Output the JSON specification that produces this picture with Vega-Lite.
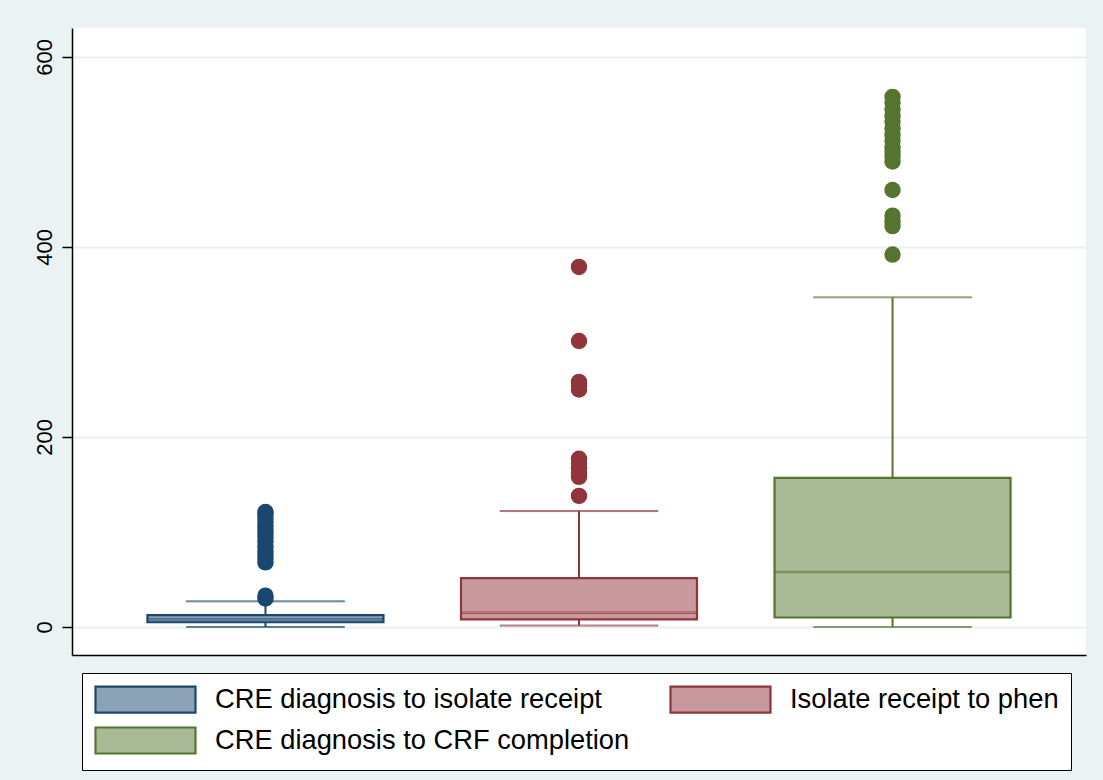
{
  "$schema": "https://vega.github.io/schema/vega-lite/v6.json",
  "width": 1014,
  "height": 627,
  "autosize": "none",
  "padding": {"left": 72, "top": 28, "right": 17, "bottom": 125},
  "background": "#eaf2f3",
  "config": {
    "view": {"fill": "white", "stroke": null},
    "font": "Liberation Sans"
  },
  "datasets": {
    "summary": [
      {"group": "CRE diagnosis to isolate receipt", "lower": 0, "q1": 5, "median": 8, "q3": 12.5, "upper": 27},
      {"group": "Isolate receipt to phen", "lower": 1.5, "q1": 8, "median": 15, "q3": 51.5, "upper": 122},
      {"group": "CRE diagnosis to CRF completion", "lower": 0, "q1": 10, "median": 58, "q3": 157, "upper": 347}
    ],
    "outliers": [
      {"series": "CRE diagnosis to isolate receipt", "value": 30},
      {"series": "CRE diagnosis to isolate receipt", "value": 33},
      {"series": "CRE diagnosis to isolate receipt", "value": 68},
      {"series": "CRE diagnosis to isolate receipt", "value": 72},
      {"series": "CRE diagnosis to isolate receipt", "value": 76},
      {"series": "CRE diagnosis to isolate receipt", "value": 80},
      {"series": "CRE diagnosis to isolate receipt", "value": 85},
      {"series": "CRE diagnosis to isolate receipt", "value": 90},
      {"series": "CRE diagnosis to isolate receipt", "value": 94},
      {"series": "CRE diagnosis to isolate receipt", "value": 98},
      {"series": "CRE diagnosis to isolate receipt", "value": 102},
      {"series": "CRE diagnosis to isolate receipt", "value": 106},
      {"series": "CRE diagnosis to isolate receipt", "value": 110},
      {"series": "CRE diagnosis to isolate receipt", "value": 114},
      {"series": "CRE diagnosis to isolate receipt", "value": 118},
      {"series": "CRE diagnosis to isolate receipt", "value": 121},
      {"series": "Isolate receipt to phen", "value": 138},
      {"series": "Isolate receipt to phen", "value": 158},
      {"series": "Isolate receipt to phen", "value": 162},
      {"series": "Isolate receipt to phen", "value": 167},
      {"series": "Isolate receipt to phen", "value": 172},
      {"series": "Isolate receipt to phen", "value": 177},
      {"series": "Isolate receipt to phen", "value": 250},
      {"series": "Isolate receipt to phen", "value": 254},
      {"series": "Isolate receipt to phen", "value": 258},
      {"series": "Isolate receipt to phen", "value": 301},
      {"series": "Isolate receipt to phen", "value": 379},
      {"series": "CRE diagnosis to CRF completion", "value": 392},
      {"series": "CRE diagnosis to CRF completion", "value": 422},
      {"series": "CRE diagnosis to CRF completion", "value": 427},
      {"series": "CRE diagnosis to CRF completion", "value": 433},
      {"series": "CRE diagnosis to CRF completion", "value": 460},
      {"series": "CRE diagnosis to CRF completion", "value": 490},
      {"series": "CRE diagnosis to CRF completion", "value": 495},
      {"series": "CRE diagnosis to CRF completion", "value": 500},
      {"series": "CRE diagnosis to CRF completion", "value": 505},
      {"series": "CRE diagnosis to CRF completion", "value": 512},
      {"series": "CRE diagnosis to CRF completion", "value": 518},
      {"series": "CRE diagnosis to CRF completion", "value": 525},
      {"series": "CRE diagnosis to CRF completion", "value": 532},
      {"series": "CRE diagnosis to CRF completion", "value": 538},
      {"series": "CRE diagnosis to CRF completion", "value": 545},
      {"series": "CRE diagnosis to CRF completion", "value": 552},
      {"series": "CRE diagnosis to CRF completion", "value": 558}
    ]
  },
  "layer": [
    {
      "data": {"name": "summary"},
      "mark": {"type": "rule", "strokeWidth": 2},
      "encoding": {
        "x": {
          "field": "group",
          "type": "nominal",
          "scale": {"type": "point", "padding": 0.617, "domain": ["CRE diagnosis to isolate receipt", "Isolate receipt to phen", "CRE diagnosis to CRF completion"]},
          "axis": {"labels": false, "ticks": false, "title": null, "grid": false, "domain": true, "domainColor": "#000", "domainWidth": 1.5}
        },
        "y": {
          "field": "lower",
          "type": "quantitative",
          "scale": {"domain": [-29.5, 630.5], "nice": false, "zero": false},
          "axis": {
            "values": [0, 200, 400, 600],
            "title": null,
            "grid": true,
            "gridColor": "#e8f0f2",
            "gridWidth": 2,
            "tickSize": 10,
            "tickColor": "#000",
            "tickWidth": 1.5,
            "domainColor": "#000",
            "domainWidth": 1.5,
            "labelAngle": 270,
            "labelFontSize": 22,
            "labelColor": "#000",
            "labelPadding": 6,
            "labelFont": "Liberation Sans"
          }
        },
        "y2": {"field": "upper"},
        "stroke": {
          "field": "group",
          "type": "nominal",
          "scale": {"domain": ["CRE diagnosis to isolate receipt", "Isolate receipt to phen", "CRE diagnosis to CRF completion"], "range": ["#1a476f", "#90353b", "#55752f"]}
        }
      }
    },
    {
      "data": {"name": "summary"},
      "mark": {"type": "tick", "size": 158, "thickness": 1, "filled": false, "strokeWidth": 1},
      "encoding": {
        "x": {"field": "group", "type": "nominal"},
        "y": {"field": "lower", "type": "quantitative"},
        "stroke": {"field": "group", "type": "nominal"}
      }
    },
    {
      "data": {"name": "summary"},
      "mark": {"type": "tick", "size": 158, "thickness": 1, "filled": false, "strokeWidth": 1},
      "encoding": {
        "x": {"field": "group", "type": "nominal"},
        "y": {"field": "upper", "type": "quantitative"},
        "stroke": {"field": "group", "type": "nominal"}
      }
    },
    {
      "data": {"name": "summary"},
      "mark": {"type": "bar", "size": 236, "strokeWidth": 2.2},
      "encoding": {
        "x": {"field": "group", "type": "nominal"},
        "y": {"field": "q1", "type": "quantitative"},
        "y2": {"field": "q3"},
        "fill": {
          "field": "group",
          "type": "nominal",
          "scale": {"domain": ["CRE diagnosis to isolate receipt", "Isolate receipt to phen", "CRE diagnosis to CRF completion"], "range": ["#8ca3b7", "#c89a9d", "#aaba97"]},
          "legend": {
            "orient": "none",
            "legendX": 10,
            "legendY": 645,
            "columns": 2,
            "direction": "horizontal",
            "title": null,
            "symbolType": "M-1,-1H6.69V1H-1Z",
            "symbolSize": 676,
            "symbolStrokeWidth": 2.2,
            "symbolOpacity": 1,
            "labelFont": "Liberation Sans",
            "labelFontSize": 27.3,
            "labelColor": "#000",
            "labelOffset": 92,
            "labelLimit": 1000,
            "columnPadding": 36,
            "rowPadding": 6,
            "padding": 12,
            "strokeColor": "#000",
            "fillColor": "white",
            "encode": {
              "symbols": {
                "update": {
                  "opacity": {"value": 1},
                  "fillOpacity": {"value": 1},
                  "strokeOpacity": {"value": 1}
                }
              }
            }
          }
        },
        "stroke": {"field": "group", "type": "nominal"}
      }
    },
    {
      "data": {"name": "summary"},
      "mark": {"type": "tick", "size": 236, "thickness": 1.5, "filled": false, "strokeWidth": 1},
      "encoding": {
        "x": {"field": "group", "type": "nominal"},
        "y": {"field": "median", "type": "quantitative"},
        "stroke": {"field": "group", "type": "nominal"}
      }
    },
    {
      "data": {"name": "outliers"},
      "mark": {"type": "point", "filled": true, "size": 270, "opacity": 1, "shape": "circle"},
      "encoding": {
        "x": {"field": "series", "type": "nominal"},
        "y": {"field": "value", "type": "quantitative"},
        "color": {
          "field": "series",
          "type": "nominal",
          "scale": {"domain": ["CRE diagnosis to isolate receipt", "Isolate receipt to phen", "CRE diagnosis to CRF completion"], "range": ["#1a476f", "#90353b", "#55752f"]},
          "legend": null
        }
      }
    }
  ]
}
